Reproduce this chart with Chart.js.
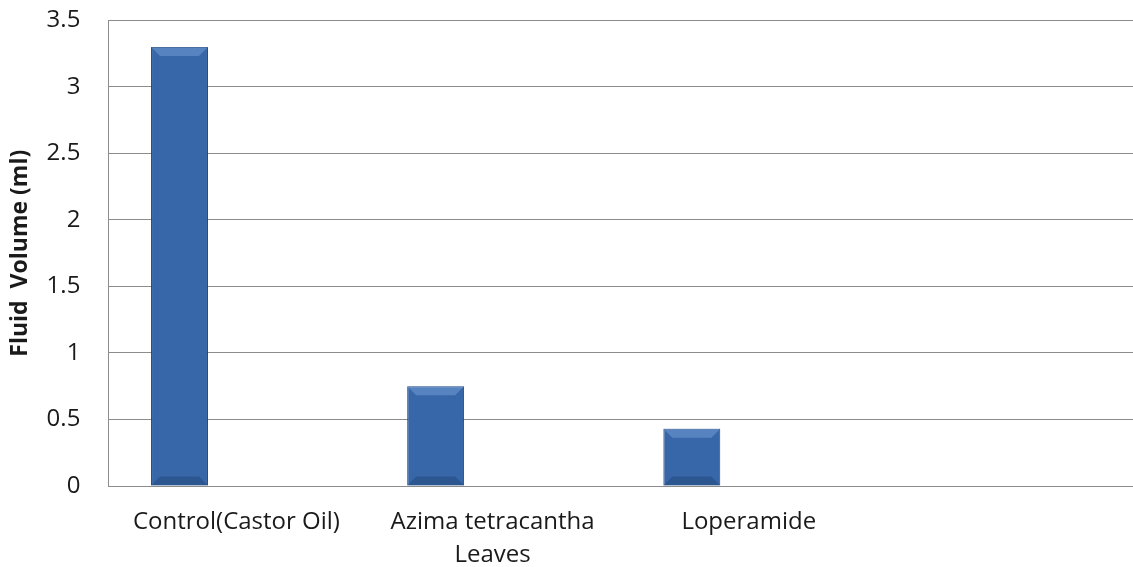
<!DOCTYPE html>
<html>
<head>
<meta charset="utf-8">
<script src="https://cdn.jsdelivr.net/npm/chart.js@4"></script>
<style>
  html, body { margin: 0; padding: 0; background: #fff; }
  #wrap { width: 1133px; height: 567px; }
</style>
</head>
<body>
<div id="wrap"><canvas id="chart"></canvas></div>
<script>
// categories (Excel leaves a 4th empty slot and 3 series per group)
const categories = ['Control(Castor Oil)', ['Azima tetracantha', 'Leaves'], 'Loperamide', ''];
const fluidVolume = [3.3, 0.75, 0.43, null];
const emptySeries = [null, null, null, null];
const yTicks = [0, 0.5, 1, 1.5, 2, 2.5, 3, 3.5];

const gridCol = '#8c8c8c';
const textCol = '#1a1a1a';
const font = '"Open Sans", sans-serif';

// bar fill: darker edges, lighter middle, like the bevelled Excel bars
function barFill(ctx) {
  const chart = ctx.chart;
  const el = ctx.element;
  if (!el || el.x === undefined) return '#3767a8';
  const w = el.width || 58;
  const g = chart.ctx.createLinearGradient(el.x - w / 2, 0, el.x + w / 2, 0);
  g.addColorStop(0, '#234a7e');
  g.addColorStop(0.12, '#3464a4');
  g.addColorStop(0.5, '#3a6caf');
  g.addColorStop(0.88, '#3464a4');
  g.addColorStop(1, '#1f4170');
  return g;
}

// small top/bottom bevel shading
const bevelPlugin = {
  id: 'bevel',
  afterDatasetsDraw(chart) {
    const meta = chart.getDatasetMeta(0);
    const ctx = chart.ctx;
    meta.data.forEach(bar => {
      if (bar.y === undefined || isNaN(bar.y)) return;
      const w = bar.width, l = bar.x - w / 2, r = bar.x + w / 2;
      const t = bar.y, b = bar.base, d = 9;
      if (b - t < d * 2) return;
      ctx.save();
      ctx.fillStyle = 'rgba(120,160,215,0.5)';
      ctx.beginPath();
      ctx.moveTo(l, t); ctx.lineTo(r, t); ctx.lineTo(r - d, t + d); ctx.lineTo(l + d, t + d);
      ctx.closePath(); ctx.fill();
      ctx.fillStyle = 'rgba(20,45,85,0.3)';
      ctx.beginPath();
      ctx.moveTo(l, b); ctx.lineTo(r, b); ctx.lineTo(r - d, b - d); ctx.lineTo(l + d, b - d);
      ctx.closePath(); ctx.fill();
      ctx.restore();
    });
  }
};

new Chart(document.getElementById('chart'), {
  type: 'bar',
  data: {
    labels: categories,
    datasets: [
      {
        label: 'Fluid Volume',
        data: fluidVolume,
        backgroundColor: barFill,
        borderColor: '#1f3f6c',
        borderWidth: 1,
        categoryPercentage: 3 / 4.5,
        barPercentage: 1,
      },
      { label: 's2', data: emptySeries, categoryPercentage: 3 / 4.5, barPercentage: 1 },
      { label: 's3', data: emptySeries, categoryPercentage: 3 / 4.5, barPercentage: 1 },
    ],
  },
  options: {
    responsive: true,
    maintainAspectRatio: false,
    animation: false,
    layout: { padding: { top: 0, right: 0, bottom: -25, left: 7 } },
    plugins: {
      legend: { display: false },
      tooltip: { enabled: false },
    },
    scales: {
      x: {
        grid: { display: false, drawTicks: false },
        border: { display: true, color: gridCol, width: 1 },
        ticks: {
          color: textCol,
          font: { size: 24, family: font, lineHeight: 1.375 },
          padding: 20,
          maxRotation: 0,
          autoSkip: false,
        },
      },
      y: {
        min: 0,
        max: 3.5,
        afterBuildTicks: (axis) => { axis.ticks = yTicks.map(v => ({ value: v })); },
        // invisible tick marks give the label gap without padding the top
        grid: { color: gridCol, lineWidth: 1, drawTicks: true, tickLength: 22, tickColor: 'rgba(0,0,0,0)' },
        border: { display: true, color: gridCol, width: 1 },
        ticks: {
          color: textCol,
          font: { size: 24, family: font },
          padding: 6,
          callback: (v) => String(v),
        },
        title: {
          display: true,
          text: 'Fluid  Volume (ml)',
          color: textCol,
          font: { size: 23, weight: 'bold', family: font },
          padding: { top: 0, bottom: 6 },
        },
      },
    },
  },
  plugins: [bevelPlugin],
});
</script>
</body>
</html>
